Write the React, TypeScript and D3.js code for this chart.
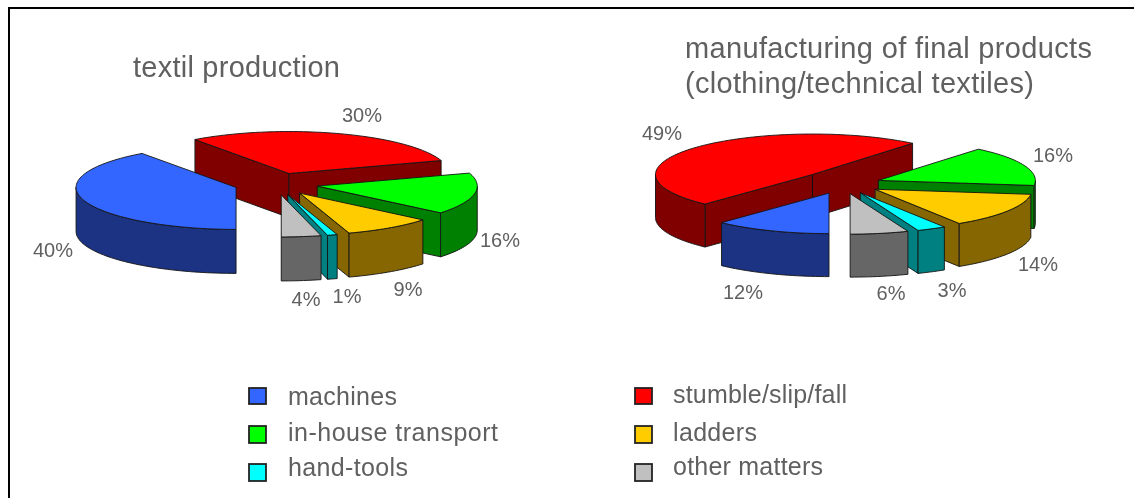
import React from "react";
import * as d3 from "d3";

const categories = ["machines", "stumble/slip/fall", "in-house transport", "ladders", "hand-tools", "other matters"];
const textilValues = [40, 30, 16, 9, 1, 4];
const finalValues = [12, 49, 16, 14, 3, 6];
const topColors = ["#3366ff", "#ff0000", "#00ff00", "#ffcc00", "#00ffff", "#c0c0c0"];
const wallColors = ["#1a3383", "#800000", "#008000", "#866600", "#008080", "#666666"];
const paintOrder = [1, 2, 0, 3, 4, 5];

const textilLabels = [
  { t: "40%", x: 53, y: 250 }, { t: "30%", x: 362, y: 115 }, { t: "16%", x: 500, y: 240 },
  { t: "9%", x: 408, y: 289 }, { t: "1%", x: 347, y: 296 }, { t: "4%", x: 306, y: 299 },
];
const finalLabels = [
  { t: "12%", x: 743, y: 292 }, { t: "49%", x: 662, y: 133 }, { t: "16%", x: 1053, y: 155 },
  { t: "14%", x: 1038, y: 264 }, { t: "3%", x: 952, y: 290 }, { t: "6%", x: 891, y: 293 },
];
const legendRows = [
  { i: 0, sx: 249, sy: 388, sh: 16, tx: 288, ty: 405, w: 109 },
  { i: 2, sx: 249, sy: 426, sh: 17, tx: 288, ty: 441, w: 210 },
  { i: 4, sx: 249, sy: 464, sh: 17, tx: 288, ty: 476, w: 120 },
  { i: 1, sx: 635, sy: 388, sh: 16, tx: 673, ty: 403, w: 174 },
  { i: 3, sx: 635, sy: 426, sh: 17, tx: 673, ty: 441, w: 84 },
  { i: 5, sx: 635, sy: 464, sh: 17, tx: 673, ty: 475, w: 150 },
];
const titleLines = [
  { t: "textil production", x: 133, y: 77, w: 207 },
  { t: "manufacturing of final products", x: 685, y: 58, w: 407 },
  { t: "(clothing/technical textiles)", x: 685, y: 93, w: 349 },
];

const ink = "#606060";
const font = "'Liberation Sans', Arial, sans-serif";

type Geo = { cx: number; cy: number; rx: number; ry: number; depth: number; explode: number; nudge: Record<number, [number, number]> };

function Pie3D({ values, geo }: { values: number[]; geo: Geo }) {
  const arcs = d3.pie<number>().sort(null)(values);
  const sx = d3.scaleLinear().domain([-1, 1]).range([-geo.rx, geo.rx]);
  const sy = d3.scaleLinear().domain([-1, 1]).range([-geo.ry, geo.ry]);
  const line = d3.line<[number, number]>();
  const rim = (ax: number, ay: number, a0: number, a1: number): [number, number][] => {
    const n = Math.max(2, Math.ceil((a1 - a0) / 0.03));
    return d3.range(n + 1).map((k) => {
      const a = a0 + ((a1 - a0) * k) / n;
      return [ax + sx(-Math.sin(a)), ay + sy(Math.cos(a))] as [number, number];
    });
  };
  return (
    <g stroke="#141414" strokeWidth={0.9} strokeLinejoin="round">
      {paintOrder.map((i) => {
        const arc = arcs[i];
        const a0 = arc.startAngle;
        const a1 = arc.endAngle;
        const mid = (a0 + a1) / 2;
        const shift = geo.nudge[i] ?? [0, 0];
        const ax = geo.cx - Math.sin(mid) * geo.explode + shift[0];
        const ay = geo.cy + (Math.cos(mid) * geo.explode * geo.ry) / geo.rx + shift[1];
        const top = rim(ax, ay, a0, a1);
        const apex: [number, number] = [ax, ay];
        const wall = (p: [number, number]) =>
          line([apex, p, [p[0], p[1] + geo.depth], [ax, ay + geo.depth]]) + "Z";
        const visible: [number, number][][] = [];
        const ranges: [number, number][] = [
          [0, Math.PI / 2],
          [(3 * Math.PI) / 2, 2 * Math.PI],
        ];
        ranges.forEach(([lo, hi]) => {
          const s = Math.max(lo, a0);
          const e = Math.min(hi, a1);
          if (e > s) visible.push(rim(ax, ay, s, e));
        });
        return (
          <g key={i}>
            {Math.sin(a0) > 0.001 && <path d={wall(top[0])} fill={wallColors[i]} />}
            {Math.sin(a1) < -0.001 && <path d={wall(top[top.length - 1])} fill={wallColors[i]} />}
            {visible.map((pts, k) => {
              const low = pts.map((p) => [p[0], p[1] + geo.depth] as [number, number]).reverse();
              return <path key={k} d={line([...pts, ...low]) + "Z"} fill={wallColors[i]} />;
            })}
            <path d={line([apex, ...top]) + "Z"} fill={topColors[i]} />
          </g>
        );
      })}
    </g>
  );
}

export default function App() {
  return (
    <svg width={1134} height={498} style={{ position: "absolute", left: 0, top: 0, background: "#fff" }}>
      <defs>
        <filter id="soft" x="-5%" y="-5%" width="110%" height="110%">
          <feGaussianBlur stdDeviation="0.55" />
        </filter>
      </defs>
      <rect width={1134} height={498} fill="#fff" />
      <path d="M9 498V8H1134" fill="none" stroke="#000" strokeWidth={2} />
      <g filter="url(#soft)">
        <Pie3D values={textilValues} geo={{ cx: 276, cy: 184, rx: 160, ry: 42, depth: 44, explode: 42, nudge: {} }} />
        <Pie3D values={finalValues} geo={{ cx: 843, cy: 184, rx: 157, ry: 40.5, depth: 43, explode: 38, nudge: { 1: [-2, -3] } }} />
        <g fontFamily={font} fill={ink}>
          {titleLines.map((d) => (
            <text key={d.t} x={d.x} y={d.y} fontSize={29} textLength={d.w} lengthAdjust="spacing">{d.t}</text>
          ))}
          {[...textilLabels, ...finalLabels].map((d) => (
            <text key={d.t + d.x} x={d.x} y={d.y} fontSize={20} textAnchor="middle" dominantBaseline="central">{d.t}</text>
          ))}
          {legendRows.map((d) => (
            <text key={d.i} x={d.tx} y={d.ty} fontSize={25} textLength={d.w} lengthAdjust="spacing">{categories[d.i]}</text>
          ))}
        </g>
        {legendRows.map((d) => (
          <rect key={d.i} x={d.sx} y={d.sy} width={17} height={d.sh} fill={topColors[d.i]} stroke="#222" strokeWidth={1.8} />
        ))}
      </g>
    </svg>
  );
}
